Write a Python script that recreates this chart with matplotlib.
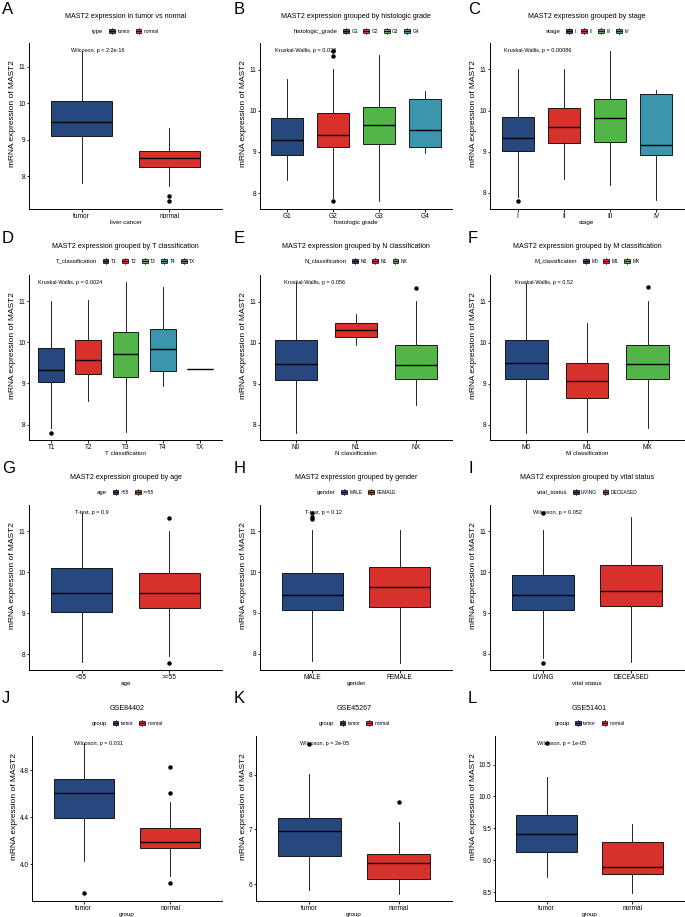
import matplotlib
matplotlib.use("Agg")
import matplotlib.pyplot as plt
from matplotlib.patches import Patch, Rectangle
from matplotlib.lines import Line2D
from matplotlib.legend_handler import HandlerBase

plt.rcParams['font.family'] = ['Liberation Sans', 'DejaVu Sans']

# box stats per group: (whisker low, q1, median, q3, whisker high)
A_groups = ["tumor", "normal"]
A_box = [(7.82, 9.09, 9.48, 10.06, 11.44), (7.74, 8.24, 8.49, 8.68, 9.33)]
A_out = [[], [7.47, 7.31]]

B_groups = ["G1", "G2", "G3", "G4"]
B_box = [(8.33, 8.93, 9.28, 9.82, 10.76), (7.88, 9.11, 9.41, 9.95, 11.02),
         (7.82, 9.19, 9.65, 10.10, 11.35), (8.98, 9.12, 9.53, 10.28, 10.47)]
B_out = [[], [11.46, 11.32, 7.80], [], []]

C_groups = ["I", "II", "III", "IV"]
C_box = [(7.90, 9.02, 9.34, 9.85, 11.00), (8.34, 9.22, 9.59, 10.06, 11.02),
         (8.18, 9.24, 9.83, 10.29, 11.46), (7.82, 8.93, 9.17, 10.40, 10.50)]
C_out = [[7.79], [], [], []]

D_groups = ["T1", "T2", "T3", "T4", "TX"]
D_box = [(7.93, 9.04, 9.33, 9.85, 11.00), (8.57, 9.23, 9.58, 10.05, 11.03),
         (7.82, 9.15, 9.72, 10.26, 11.45), (8.94, 9.31, 9.83, 10.33, 11.34),
         (9.36, 9.36, 9.36, 9.36, 9.36)]
D_out = [[7.81], [], [], [], []]

E_groups = ["N0", "N1", "NX"]
E_box = [(7.81, 9.09, 9.48, 10.06, 11.47), (9.95, 10.13, 10.30, 10.47, 10.69),
         (8.49, 9.12, 9.46, 9.95, 11.02)]
E_out = [[], [], [11.34]]

F_groups = ["M0", "M1", "MX"]
F_box = [(7.81, 9.10, 9.49, 10.07, 11.46), (7.83, 8.65, 9.06, 9.50, 10.48),
         (7.91, 9.11, 9.48, 9.95, 11.01)]
F_out = [[], [], [11.34]]

G_groups = ["<55", ">=55"]
G_box = [(7.81, 9.03, 9.50, 10.11, 11.46), (7.96, 9.12, 9.49, 9.99, 11.02)]
G_out = [[], [11.32, 7.80]]

H_groups = ["MALE", "FEMALE"]
H_box = [(7.81, 9.08, 9.44, 9.97, 11.02), (7.78, 9.14, 9.63, 10.13, 11.02)]
H_out = [[11.46, 11.36, 11.31], []]

I_groups = ["LIVING", "DECEASED"]
I_box = [(7.89, 9.08, 9.45, 9.93, 11.03), (7.81, 9.17, 9.53, 10.17, 11.35)]
I_out = [[11.46, 7.79], []]

J_groups = ["tumor", "normal"]
J_box = [(4.031, 4.39, 4.608, 4.729, 5.026), (3.901, 4.136, 4.189, 4.308, 4.529)]
J_out = [[3.754], [4.825, 4.608, 3.845]]

K_groups = ["tumor", "normal"]
K_box = [(5.90, 6.51, 6.98, 7.21, 8.02), (5.83, 6.10, 6.39, 6.56, 7.13)]
K_out = [[8.57], [7.51]]

L_groups = ["tumor", "normal"]
L_box = [(8.74, 9.13, 9.42, 9.71, 10.31), (8.48, 8.78, 8.90, 9.28, 9.57)]
L_out = [[10.83], []]

titles = ["MAST2 expression in tumor vs normal", "MAST2 expression grouped by histologic grade",
          "MAST2 expression grouped by stage", "MAST2 expression grouped by T classification",
          "MAST2 expression grouped by N classification", "MAST2 expression grouped by M classification",
          "MAST2 expression grouped by age", "MAST2 expression grouped by gender",
          "MAST2 expression grouped by vital status", "GSE84402", "GSE45267", "GSE51401"]
legend_titles = ["type", "histologic_grade", "stage", "T_classification", "N_classification",
                 "M_classification", "age", "gender", "vital_status", "group", "group", "group"]
xlabels = ["liver cancer", "histologic grade", "stage", "T classification", "N classification",
           "M classification", "age", "gender", "vital status", "group", "group", "group"]
tests = ["Wilcoxon, p < 2.2e-16", "Kruskal-Wallis, p = 0.038", "Kruskal-Wallis, p = 0.00086",
         "Kruskal-Wallis, p = 0.0024", "Kruskal-Wallis, p = 0.056", "Kruskal-Wallis, p = 0.52",
         "T-test, p = 0.9", "T-test, p = 0.12", "Wilcoxon, p = 0.052",
         "Wilcoxon, p = 0.031", "Wilcoxon, p = 2e-05", "Wilcoxon, p = 1e-05"]
letters = list("ABCDEFGHIJKL")
int_ticks = [8, 9, 10, 11]
J_ticks = [4.0, 4.4, 4.8]
K_ticks = [6, 7, 8]
L_ticks = [8.5, 9.0, 9.5, 10.0, 10.5]

palette = ["#27487F", "#D8302A", "#52B548", "#3A95AD", "#8E5E9C"]

groups_all = [A_groups, B_groups, C_groups, D_groups, E_groups, F_groups,
              G_groups, H_groups, I_groups, J_groups, K_groups, L_groups]
box_all = [A_box, B_box, C_box, D_box, E_box, F_box, G_box, H_box, I_box, J_box, K_box, L_box]
out_all = [A_out, B_out, C_out, D_out, E_out, F_out, G_out, H_out, I_out, J_out, K_out, L_out]
ticks_all = [int_ticks] * 9 + [J_ticks, K_ticks, L_ticks]
tick_fmt = ["%d"] * 9 + ["%.1f", "%d", "%.1f"]

# layout in pixels
W, H = 685, 917
rows_tb = [(43, 209), (275, 440), (505, 670), (736, 901)]
lefts = [[29, 260, 490], [29, 260, 490], [29, 260, 490], [32, 256, 495]]
rights = [222, 452, 684]
title_y = [16, 247, 478, 708]
leg_y = [31, 261, 492, 723]
letter_x = [2, 234, 468]
letter_y = [2, 231, 461, 691]


class BoxKey(HandlerBase):
    def create_artists(self, legend, orig_handle, xdescent, ydescent, width, height, fontsize, trans):
        x0, y0 = -xdescent, -ydescent
        cx = x0 + width / 2
        rect = Rectangle((x0 + 0.1 * width, y0 + 0.22 * height), 0.8 * width, 0.56 * height,
                         facecolor=orig_handle.get_facecolor(), edgecolor="black",
                         linewidth=0.5, transform=trans)
        med = Line2D([x0 + 0.1 * width, x0 + 0.9 * width], [y0 + 0.5 * height] * 2,
                     color="black", lw=0.6, transform=trans)
        w1 = Line2D([cx, cx], [y0, y0 + 0.22 * height], color="black", lw=0.5, transform=trans)
        w2 = Line2D([cx, cx], [y0 + 0.78 * height, y0 + height], color="black", lw=0.5, transform=trans)
        return [w1, w2, rect, med]


fig = plt.figure(figsize=(W / 100, H / 100), dpi=100)
notes = []

for k in range(12):
    r, c = divmod(k, 3)
    top, bot = rows_tb[r]
    l, rt = lefts[r][c], rights[c]
    ax = fig.add_axes([l / W, 1 - bot / H, (rt - l) / W, (bot - top) / H])
    groups = groups_all[k]
    n = len(groups)
    stats = []
    allv = []
    for g, (lo, q1, med, q3, hi), fl in zip(groups, box_all[k], out_all[k]):
        stats.append(dict(label=g, whislo=lo, q1=q1, med=med, q3=q3, whishi=hi, fliers=fl))
        allv += [lo, hi] + fl
    art = ax.bxp(stats, positions=list(range(1, n + 1)), widths=0.7, patch_artist=True,
                 showcaps=False,
                 boxprops=dict(edgecolor="black", linewidth=0.6),
                 medianprops=dict(color="black", linewidth=1.0),
                 whiskerprops=dict(color="black", linewidth=0.6),
                 flierprops=dict(marker="o", markerfacecolor="black", markeredgecolor="black",
                                 markersize=2.2))
    for patch, col in zip(art["boxes"], palette):
        patch.set_facecolor(col)

    ymin, ymax = min(allv), max(allv)
    span = ymax - ymin
    ax.set_ylim(ymin - 0.05 * span, ymax + 0.05 * span)
    ax.set_xlim(0.4, n + 0.6)
    ax.set_yticks(ticks_all[k])
    ax.set_yticklabels([tick_fmt[k] % t for t in ticks_all[k]])
    ax.set_xticks(range(1, n + 1))
    ax.set_xticklabels(groups)
    for s in ["top", "right"]:
        ax.spines[s].set_visible(False)
    for s in ["left", "bottom"]:
        ax.spines[s].set_linewidth(0.7)
    ax.tick_params(length=1.8, width=0.6, labelsize=4.7, pad=0.8)
    ax.set_xlabel(xlabels[k], fontsize=4.5, labelpad=0.6)
    ax.set_ylabel("mRNA expression of MAST2", fontsize=6.0, labelpad=1.2)
    ax.yaxis.label.set_y(0.575)

    t = ax.text(1, ymax, tests[k], fontsize=4.0, ha="left", va="center")
    notes.append((ax, t, ymax))

    cx = (l + rt) / 2
    fig.text(cx / W, 1 - title_y[r] / H, titles[k], ha="center", va="center", fontsize=5.1)
    fig.text(letter_x[c] / W, 1 - letter_y[r] / H, letters[k], ha="left", va="top", fontsize=12)

    handles = [Line2D([], [], linestyle="none")] + \
              [Patch(facecolor=palette[i], edgecolor="black") for i in range(n)]
    fs = 3.5
    hl = 1.5
    shift = (hl + 0.3) * fs * 100 / 72 / 2
    leg = fig.legend(handles, [legend_titles[k]] + groups, loc="center",
                     bbox_to_anchor=((cx - shift) / W, 1 - leg_y[r] / H),
                     bbox_transform=fig.transFigure, ncol=n + 1, frameon=False, fontsize=fs,
                     handlelength=hl, handleheight=hl, handletextpad=0.35, columnspacing=1.0,
                     borderpad=0, borderaxespad=0, handler_map={Patch: BoxKey()})
    leg.get_texts()[0].set_fontsize(4.3)

# ggpubr-style label placement: anchored at the first group, hjust ~0.2
fig.canvas.draw()
renderer = fig.canvas.get_renderer()
for ax, t, y in notes:
    w = t.get_window_extent(renderer).width
    px, py = ax.transData.transform((1, y))
    t.set_x(ax.transData.inverted().transform((px - 0.2 * w, py))[0])

fig.savefig("out.png", dpi=100)
